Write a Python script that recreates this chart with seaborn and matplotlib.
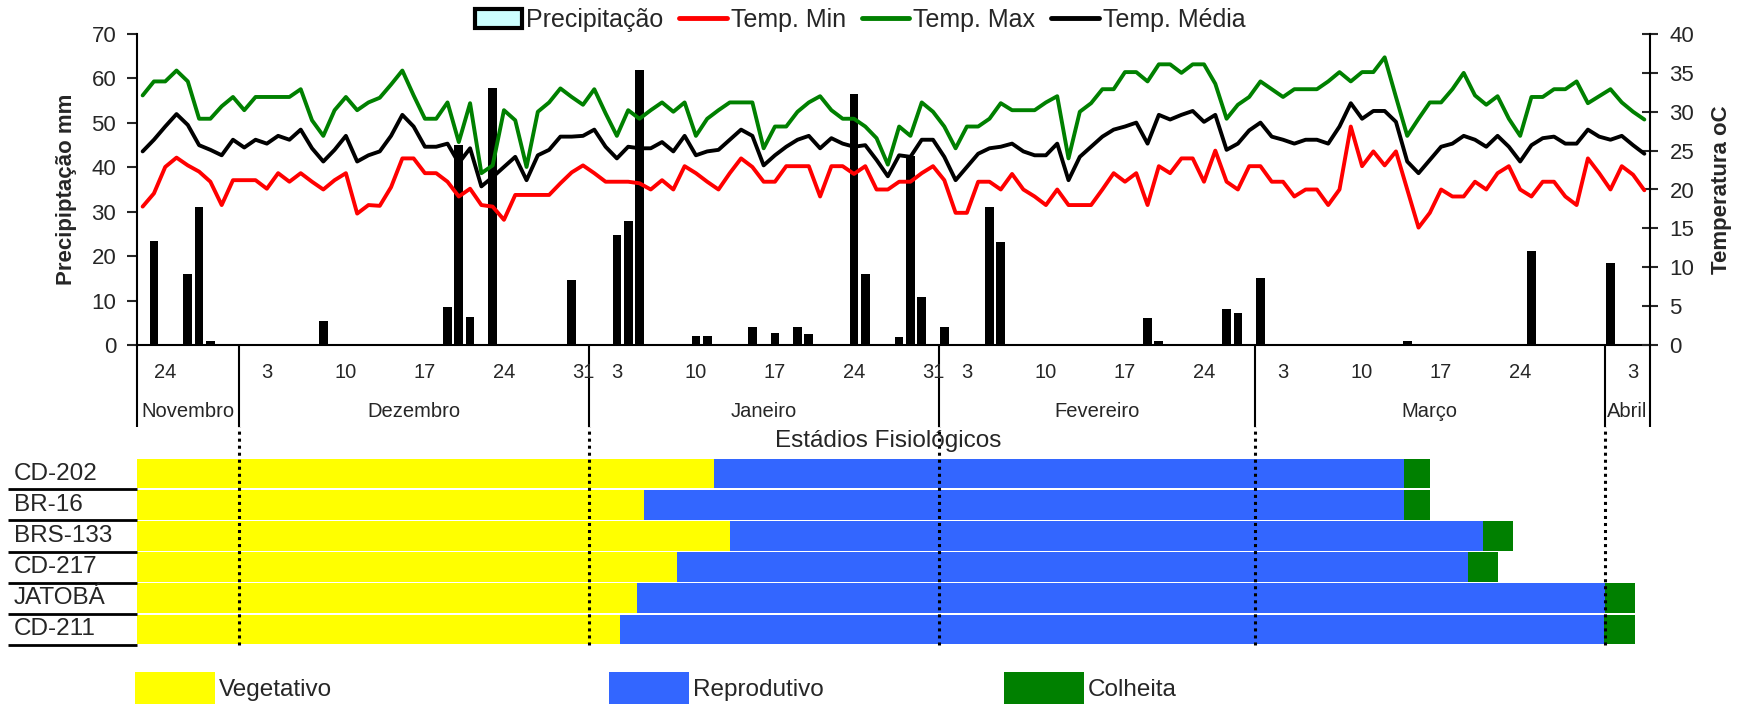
import numpy as np
import pandas as pd
import seaborn as sns
import matplotlib.pyplot as plt
import matplotlib.transforms as mtransforms
from matplotlib.patches import Patch
from matplotlib.lines import Line2D

# ---- data (one value per day, 22/11 to 04/04) ----
inicio = "2004-11-22"

chuva = [
    0, 23.5, 0, 0, 15.9, 31.1, 1.0, 0, 0, 0,
    0, 0, 0, 0, 0, 0, 5.3, 0, 0, 0,
    0, 0, 0, 0, 0, 0, 0, 8.6, 45.0, 6.2,
    0, 57.8, 0, 0, 0, 0, 0, 0, 14.6, 0,
    0, 0, 24.8, 27.8, 62.0, 0, 0, 0, 0, 2.0,
    2.0, 0, 0, 0, 4.1, 0, 2.8, 0, 4.1, 2.5,
    0, 0, 0, 56.6, 15.9, 0, 0, 1.9, 42.5, 10.9,
    0, 4.1, 0, 0, 0, 31.1, 23.1, 0, 0, 0,
    0, 0, 0, 0, 0, 0, 0, 0, 0, 6.0,
    1.0, 0, 0, 0, 0, 0, 8.2, 7.3, 0, 15.0,
    0, 0, 0, 0, 0, 0, 0, 0, 0, 0,
    0, 0, 1.0, 0, 0, 0, 0, 0, 0, 0,
    0, 0, 0, 21.2, 0, 0, 0, 0, 0, 0,
    18.4, 0, 0, 0,
]

temp_max = [
    32.1, 33.9, 33.9, 35.3, 33.9, 29.1, 29.1, 30.7, 31.9, 30.2,
    31.9, 31.9, 31.9, 31.9, 32.9, 28.9, 26.9, 30.2, 31.9, 30.2,
    31.2, 31.8, 33.5, 35.3, 32.1, 29.1, 29.1, 31.2, 26.1, 31.1,
    22.1, 23.1, 30.2, 28.9, 22.9, 30.0, 31.2, 33.0, 31.9, 30.9,
    32.9, 29.8, 26.9, 30.2, 29.1, 30.2, 31.2, 30.0, 31.2, 26.9,
    29.1, 30.2, 31.2, 31.2, 31.2, 25.3, 28.1, 28.1, 30.0, 31.2,
    32.0, 30.2, 29.1, 29.1, 28.1, 26.6, 23.2, 28.1, 26.9, 31.2,
    30.0, 28.1, 25.3, 28.1, 28.1, 29.1, 31.1, 30.2, 30.2, 30.2,
    31.2, 32.0, 24.0, 30.0, 31.1, 32.9, 32.9, 35.1, 35.1, 33.9,
    36.1, 36.1, 35.0, 36.1, 36.1, 33.6, 29.1, 30.9, 31.9, 33.9,
    32.9, 31.9, 32.9, 32.9, 32.9, 33.9, 35.1, 33.9, 35.1, 35.1,
    37.0, 31.9, 26.9, 29.1, 31.2, 31.2, 32.9, 35.0, 32.1, 30.9,
    32.0, 29.1, 26.9, 31.9, 31.9, 32.9, 32.9, 33.9, 31.1, 32.0,
    32.9, 31.2, 30.0, 29.0,
]

temp_media = [
    24.9, 26.4, 28.1, 29.7, 28.3, 25.7, 25.1, 24.4, 26.4, 25.4,
    26.4, 25.9, 26.9, 26.4, 27.7, 25.3, 23.6, 25.1, 26.9, 23.6,
    24.4, 24.9, 26.9, 29.6, 28.1, 25.5, 25.5, 25.9, 23.4, 25.3,
    20.4, 21.6, 22.9, 24.2, 21.2, 24.4, 25.1, 26.8, 26.8, 26.9,
    27.7, 25.5, 24.0, 25.5, 25.3, 25.3, 26.1, 24.9, 26.9, 24.4,
    24.9, 25.1, 26.4, 27.7, 26.9, 23.1, 24.4, 25.5, 26.4, 26.9,
    25.3, 26.6, 25.9, 25.5, 25.7, 23.8, 21.7, 24.4, 24.2, 26.4,
    26.4, 24.2, 21.2, 22.9, 24.6, 25.3, 25.5, 25.9, 24.9, 24.4,
    24.4, 25.9, 21.2, 24.2, 25.5, 26.8, 27.7, 28.1, 28.6, 25.9,
    29.6, 29.0, 29.6, 30.1, 28.7, 29.6, 25.1, 25.9, 27.6, 28.6,
    26.8, 26.4, 25.9, 26.4, 26.4, 25.9, 28.1, 31.1, 29.1, 30.1,
    30.1, 28.7, 23.6, 22.1, 23.8, 25.5, 25.9, 26.9, 26.4, 25.5,
    26.9, 25.5, 23.6, 25.7, 26.6, 26.8, 25.9, 25.9, 27.7, 26.8,
    26.4, 26.9, 25.7, 24.6,
]

temp_min = [
    17.8, 19.5, 22.9, 24.1, 23.1, 22.3, 21.0, 18.0, 21.2, 21.2,
    21.2, 20.1, 22.1, 21.0, 22.1, 21.0, 20.0, 21.2, 22.1, 16.9,
    18.0, 17.9, 20.3, 24.0, 24.0, 22.1, 22.1, 21.0, 19.1, 20.1,
    18.0, 17.8, 16.1, 19.3, 19.3, 19.3, 19.3, 20.8, 22.2, 23.1,
    22.1, 21.0, 21.0, 21.0, 20.8, 20.0, 21.2, 20.0, 23.0, 22.1,
    21.0, 20.0, 22.1, 24.0, 22.9, 21.0, 21.0, 23.0, 23.0, 23.0,
    19.1, 23.0, 23.0, 22.0, 23.0, 20.0, 20.0, 21.0, 21.0, 22.1,
    23.0, 21.2, 17.0, 17.0, 21.0, 21.0, 20.0, 22.0, 20.0, 19.1,
    18.0, 20.0, 18.0, 18.0, 18.0, 20.0, 22.1, 21.0, 22.1, 18.0,
    23.0, 22.1, 24.0, 24.0, 21.0, 25.0, 21.0, 20.0, 23.0, 23.0,
    21.0, 21.0, 19.1, 20.0, 20.0, 18.0, 20.0, 28.1, 23.0, 24.9,
    23.1, 24.9, 20.0, 15.1, 17.0, 20.0, 19.1, 19.1, 21.0, 20.0,
    22.1, 23.0, 20.0, 19.1, 21.0, 21.0, 19.1, 18.0, 24.0, 22.1,
    20.0, 23.0, 21.9, 19.9,
]

dias_marcados = [
    "2004-11-24", "2004-12-03", "2004-12-10", "2004-12-17", "2004-12-24",
    "2004-12-31", "2005-01-03", "2005-01-10", "2005-01-17", "2005-01-24",
    "2005-01-31", "2005-02-03", "2005-02-10", "2005-02-17", "2005-02-24",
    "2005-03-03", "2005-03-10", "2005-03-17", "2005-03-24", "2005-04-03",
]
meses = ["Novembro", "Dezembro", "Janeiro", "Fevereiro", "Março", "Abril"]

# phenological stages, duration in days from 22/11
cultivares = ["CD-202", "BR-16", "BRS-133", "CD-217", "JATOBÁ", "CD-211"]
dur_vegetativo = [51.1, 44.9, 52.5, 47.8, 44.3, 42.8]
dur_reprodutivo = [61.1, 67.3, 66.7, 70.1, 85.7, 87.1]
dur_colheita = [2.3, 2.3, 2.7, 2.6, 2.7, 2.8]

# ---- frames ----
datas = pd.date_range(inicio, periods=len(chuva))
df = pd.DataFrame({
    "dia": np.arange(len(chuva)),
    "chuva": chuva,
    "tmin": temp_min,
    "tmax": temp_max,
    "tmed": temp_media,
})

fim_veg = np.array(dur_vegetativo)
fim_rep = fim_veg + np.array(dur_reprodutivo)
fim_col = fim_rep + np.array(dur_colheita)
dfg = pd.DataFrame({"cultivar": cultivares, "veg": fim_veg, "rep": fim_rep, "col": fim_col})

inicio_mes = [i for i, d in enumerate(datas) if d.day == 1]

sns.set_style("white")
plt.rcParams["font.family"] = ["Liberation Sans", "DejaVu Sans"]

W, H = 1737, 707
fig = plt.figure(figsize=(W / 100, H / 100), dpi=100)
fig.set_facecolor("white")

# ---- top chart: rain bars + temperature lines ----
ax = fig.add_axes([137 / W, 1 - 345 / H, 1513 / W, 311 / H])
sns.barplot(data=df, x="dia", y="chuva", color="black", width=0.77,
            saturation=1, errorbar=None, linewidth=0, ax=ax)
ax.set_xlim(-0.5, len(chuva) - 0.5)
ax.set_ylim(0, 70)
ax.set_yticks(range(0, 71, 10))
ax.set_xlabel("")
ax.set_ylabel("Precipiptação mm", fontsize=16, fontweight="bold", labelpad=10)
ax.set_xticks([])
ax.tick_params(axis="y", direction="out", length=7, width=1.5, labelsize=16, pad=8, left=True)
for s in ["top", "right"]:
    ax.spines[s].set_visible(False)
for s in ["left", "bottom"]:
    ax.spines[s].set_color("black")
    ax.spines[s].set_linewidth(1.5)

ax2 = ax.twinx()
sns.lineplot(data=df, x="dia", y="tmin", color="#ff0000", lw=2.8, ax=ax2)
sns.lineplot(data=df, x="dia", y="tmax", color="#008000", lw=2.8, ax=ax2)
sns.lineplot(data=df, x="dia", y="tmed", color="black", lw=2.8, ax=ax2)
ax2.set_ylim(0, 40)
ax2.set_yticks(range(0, 41, 5))
ax2.set_xlim(-0.5, len(chuva) - 0.5)
ax2.set_xlabel("")
ax2.set_ylabel("Temperatura oC", fontsize=16, fontweight="bold", labelpad=12)
ax2.tick_params(axis="y", direction="inout", length=12, width=1.5, labelsize=16, pad=8, right=True)
for s in ["top", "left", "bottom"]:
    ax2.spines[s].set_visible(False)
ax2.spines["right"].set_color("black")
ax2.spines["right"].set_linewidth(1.5)

# date / month table under the axis
tr = mtransforms.blended_transform_factory(ax.transData, ax.transAxes)
linhas = [-0.5] + [i - 0.5 for i in inicio_mes] + [len(chuva) - 0.5]
ax.vlines(linhas, -0.264, 0, transform=tr, color="black", lw=1.5, clip_on=False)
for d in dias_marcados:
    i = (pd.Timestamp(d) - datas[0]).days
    ax.text(i, -0.087, str(pd.Timestamp(d).day), transform=tr, ha="center",
            va="center", fontsize=14.5)
for nome, m in zip(meses, [11, 12, 1, 2, 3, 4]):
    idx = [i for i, d in enumerate(datas) if d.month == m]
    ax.text((idx[0] + idx[-1]) / 2, -0.215, nome, transform=tr, ha="center",
            va="center", fontsize=14.5)

handles = [
    Patch(facecolor="#ccffff", edgecolor="black", linewidth=3),
    Line2D([], [], color="#ff0000", lw=3.5),
    Line2D([], [], color="#008000", lw=3.5),
    Line2D([], [], color="black", lw=3.5),
]
fig.legend(handles, ["Precipitação", "Temp. Min", "Temp. Max", "Temp. Média"],
           loc="center", bbox_to_anchor=(860 / W, 1 - 20 / H), ncol=4, frameon=False,
           fontsize=18, handlelength=1.9, handleheight=0.8, handletextpad=0.16,
           columnspacing=0.64, borderpad=0, borderaxespad=0)

# ---- phenological stages (gantt) ----
fig.text(888 / W, 1 - 441 / H, "Estádios Fisiológicos", ha="center", va="center", fontsize=17.5)

axg = fig.add_axes([137 / W, 1 - 645 / H, 1513 / W, 187 / H])
sns.barplot(data=dfg, y="cultivar", x="col", orient="h", color="#008000", width=0.95,
            saturation=1, errorbar=None, linewidth=0, ax=axg)
sns.barplot(data=dfg, y="cultivar", x="rep", orient="h", color="#3366ff", width=0.95,
            saturation=1, errorbar=None, linewidth=0, ax=axg)
sns.barplot(data=dfg, y="cultivar", x="veg", orient="h", color="#ffff00", width=0.95,
            saturation=1, errorbar=None, linewidth=0, ax=axg)
axg.set_xlim(0, len(chuva))
axg.set_ylim(len(cultivares) - 0.5, -0.5)
axg.axis("off")

trg = mtransforms.blended_transform_factory(axg.transAxes, axg.transData)
for i, nome in enumerate(cultivares):
    axg.text(-0.0813, i, nome, transform=trg, ha="left", va="center", fontsize=17.5)
axg.hlines([i + 0.5 for i in range(len(cultivares))], -0.0853, 0, transform=trg,
           color="black", lw=2, clip_on=False)

trv = mtransforms.blended_transform_factory(axg.transData, axg.transAxes)
axg.vlines(inicio_mes, 0, 1.166, transform=trv, color="black", lw=2.2,
           linestyles=[(0, (1, 1.3))], clip_on=False, zorder=5)

# bottom legend
for nome, cor, x0 in [("Vegetativo", "#ffff00", 135), ("Reprodutivo", "#3366ff", 609),
                      ("Colheita", "#008000", 1004)]:
    fig.legend([Patch(facecolor=cor, edgecolor="none")], [nome], loc="center left",
               bbox_to_anchor=(x0 / W, 1 - 688 / H), frameon=False, fontsize=17.5,
               handlelength=3.29, handleheight=1.7, handletextpad=0.16,
               borderpad=0, borderaxespad=0)

fig.savefig("out.png", dpi=100)
